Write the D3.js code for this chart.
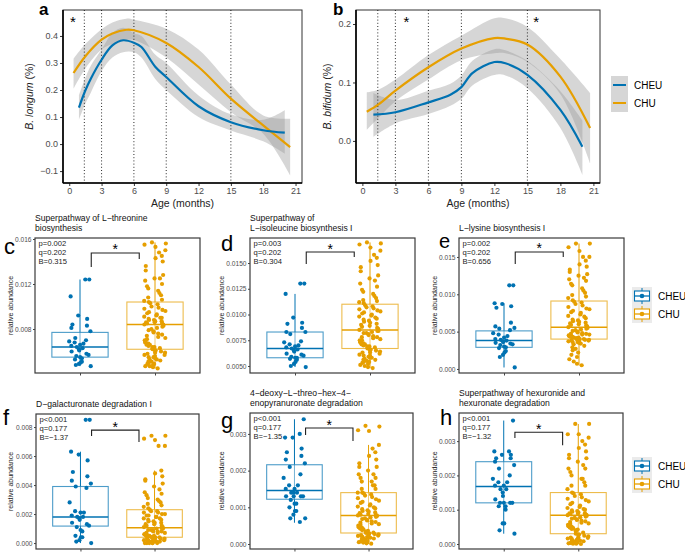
<!DOCTYPE html>
<html>
<head>
<meta charset="utf-8">
<script src="https://cdn.jsdelivr.net/npm/d3@7"></script>
<style>
body{margin:0;background:#fff}
text{font-family:"Liberation Sans",Arial,Helvetica,sans-serif}
</style>
</head>
<body>
<script>
const W = 685, H = 552
const blue = '#0072B2', orange = '#E69F00'
const groups = ['CHEU', 'CHU']

// ---- smooth curves (panels a, b) ----
const monthTicks = [0, 3, 6, 9, 12, 15, 18, 21]
const sigMonths = [1.4, 3, 6, 9, 15]

const aYTicks = [-0.1, 0, 0.1, 0.2, 0.3, 0.4]
const aCheuM  = [0.9, 1.5, 2, 3, 4, 5, 6, 6.7, 8, 9, 12, 15, 18, 20]
const aCheu   = [0.135, 0.199, 0.242, 0.312, 0.365, 0.384, 0.375, 0.359, 0.285, 0.248, 0.140, 0.081, 0.051, 0.042]
const aCheuLo = [0.09, 0.15, 0.19, 0.27, 0.32, 0.34, 0.34, 0.32, 0.24, 0.20, 0.10, 0.05, 0.01, -0.036]
const aCheuHi = [0.18, 0.245, 0.29, 0.35, 0.41, 0.43, 0.41, 0.40, 0.33, 0.30, 0.18, 0.11, 0.09, 0.125]
const aChuM   = [0.4, 1.5, 3, 4, 5.3, 6, 9, 12, 15, 18, 20.5]
const aChu    = [0.263, 0.325, 0.386, 0.409, 0.423, 0.421, 0.374, 0.285, 0.168, 0.069, -0.011]
const aChuLo  = [0.205, 0.28, 0.35, 0.37, 0.385, 0.385, 0.32, 0.22, 0.118, 0.038, -0.116]
const aChuHi  = [0.316, 0.37, 0.425, 0.45, 0.464, 0.46, 0.427, 0.35, 0.22, 0.106, 0.094]
const aStars  = [0.35]

const bYTicks = [0, 0.1, 0.2]
const bCheuM  = [1, 3, 6, 8, 9, 10, 12, 13, 15, 18, 20]
const bCheu   = [0.045, 0.049, 0.066, 0.079, 0.092, 0.116, 0.135, 0.133, 0.113, 0.053, -0.010]
const bCheuLo = [0.007, 0.03, 0.046, 0.06, 0.072, 0.095, 0.113, 0.112, 0.09, 0.022, -0.058]
const bCheuHi = [0.082, 0.07, 0.086, 0.098, 0.112, 0.137, 0.157, 0.155, 0.137, 0.085, 0.035]
const bChuM   = [0.4, 1.5, 3, 6, 9, 12, 13, 15, 18, 20.7]
const bChu    = [0.050, 0.063, 0.086, 0.126, 0.158, 0.176, 0.175, 0.165, 0.110, 0.022]
const bChuLo  = [0.019, 0.04, 0.068, 0.105, 0.138, 0.150, 0.150, 0.135, 0.080, -0.038]
const bChuHi  = [0.083, 0.088, 0.105, 0.147, 0.18, 0.21, 0.21, 0.195, 0.14, 0.082]
const bStars  = [4, 15.8]

// ---- boxplots (panels c-h) ----
const cCheu = [0.0124,0.0124,0.0109,0.0092,0.0089,0.0084,0.0083,0.0081,0.0078,0.0072,0.0070,0.0069,0.0068,0.0067,0.0066,0.0065,0.0064,0.0063,0.0062,0.0061,0.0060,0.0058,0.0057,0.0056,0.0055,0.0054,0.0053,0.0051,0.0050,0.0049,0.0048,0.0047]
const cChu = [0.0157,0.0156,0.0155,0.0153,0.0150,0.0148,0.0145,0.0143,0.0140,0.0136,0.0132,0.0128,0.0125,0.0125,0.0123,0.0120,0.0118,0.0116,0.0114,0.0112,0.0110,0.0108,0.0106,0.0105,0.0104,
  0.0103,0.0102,0.0100,0.0099,0.0098,0.0097,0.0096,0.0095,0.0094,0.0093,0.0092,0.0091,0.0090,0.0090,0.0089,0.0088,0.0088,0.0087,0.0087,0.0086,0.0086,0.0085,0.0085,0.0084,0.0084,
  0.0083,0.0082,0.0081,0.0080,0.0079,0.0078,0.0077,0.0076,0.0075,0.0074,0.0073,0.0072,0.0071,0.0070,0.0069,0.0068,0.0067,0.0066,0.0066,0.0065,0.0064,0.0064,0.0063,0.0063,0.0062,
  0.0061,0.0061,0.0060,0.0059,0.0059,0.0058,0.0057,0.0057,0.0056,0.0055,0.0055,0.0054,0.0053,0.0053,0.0052,0.0051,0.0051,0.0050,0.0049,0.0049,0.0048,0.0047,0.0047,0.0046,0.0045]
const cCheuBox = [0.0047, 0.0055, 0.0064, 0.0077, 0.0124]
const cChuBox = [0.0045, 0.0062, 0.0084, 0.0104, 0.0157]

const dCheu = [0.0130,0.0130,0.0120,0.0097,0.0092,0.0091,0.0087,0.0083,0.0083,0.0081,0.0074,0.0073,0.0071,0.0070,0.0069,0.0068,0.0067,0.0066,0.0065,0.0064,0.0062,0.0061,0.0060,0.0059,0.0058,0.0058,0.0057,0.0056,0.0054,0.0052,0.0050,0.0049]
const dChu = [0.0170,0.0169,0.0168,0.0165,0.0162,0.0158,0.0155,0.0152,0.0148,0.0146,0.0142,0.0138,0.0135,0.0133,0.0130,0.0127,0.0124,0.0122,0.0120,0.0118,0.0116,0.0114,0.0113,0.0112,0.0111,
  0.0109,0.0108,0.0107,0.0106,0.0105,0.0104,0.0103,0.0102,0.0101,0.0100,0.0099,0.0098,0.0097,0.0096,0.0095,0.0094,0.0093,0.0092,0.0091,0.0090,0.0089,0.0088,0.0087,0.0086,0.0085,
  0.0084,0.0084,0.0083,0.0082,0.0082,0.0081,0.0080,0.0079,0.0078,0.0078,0.0077,0.0076,0.0075,0.0075,0.0074,0.0073,0.0072,0.0071,0.0071,0.0070,0.0069,0.0069,0.0068,0.0068,0.0067,
  0.0066,0.0065,0.0065,0.0064,0.0063,0.0063,0.0062,0.0061,0.0060,0.0060,0.0059,0.0058,0.0058,0.0057,0.0056,0.0056,0.0055,0.0054,0.0054,0.0053,0.0052,0.0051,0.0050,0.0049,0.0048]
const dCheuBox = [0.0049, 0.0058, 0.0067, 0.0083, 0.0120]
const dChuBox = [0.0048, 0.0067, 0.0085, 0.0110, 0.0170]

const eCheu = [0.0112,0.0112,0.0088,0.0087,0.0084,0.0082,0.0062,0.0057,0.0055,0.0054,0.0052,0.0048,0.0046,0.0044,0.0042,0.0040,0.0039,0.0038,0.0037,0.0036,0.0035,0.0034,0.0033,0.0032,0.0030,0.0029,0.0028,0.0024,0.0022,0.0019,0.0016,0.0002]
const eChu = [0.0168,0.0168,0.0163,0.0158,0.0150,0.0150,0.0145,0.0140,0.0137,0.0133,0.0130,0.0127,0.0125,0.0122,0.0120,0.0118,0.0114,0.0112,0.0108,0.0105,0.0102,0.0099,0.0097,0.0095,0.0092,
  0.0090,0.0089,0.0087,0.0085,0.0083,0.0081,0.0080,0.0078,0.0076,0.0075,0.0073,0.0071,0.0070,0.0068,0.0066,0.0065,0.0064,0.0063,0.0062,0.0061,0.0060,0.0059,0.0058,0.0057,0.0056,
  0.0055,0.0054,0.0053,0.0052,0.0051,0.0050,0.0049,0.0048,0.0047,0.0047,0.0046,0.0046,0.0045,0.0045,0.0044,0.0044,0.0043,0.0043,0.0042,0.0042,0.0042,0.0041,0.0041,0.0040,0.0040,
  0.0040,0.0039,0.0039,0.0039,0.0038,0.0038,0.0038,0.0037,0.0037,0.0036,0.0036,0.0035,0.0034,0.0033,0.0031,0.0029,0.0027,0.0025,0.0022,0.0019,0.0016,0.0013,0.0010,0.0007,0.0005]
const eCheuBox = [0.0002, 0.0029, 0.0038, 0.0051, 0.0088]
const eChuBox = [0.0005, 0.0040, 0.0056, 0.0091, 0.0168]

const fCheu = [0.0085,0.0085,0.0063,0.0061,0.0057,0.0049,0.0046,0.0043,0.0041,0.0039,0.0038,0.0028,0.0022,0.0021,0.0021,0.0019,0.0018,0.0018,0.0017,0.0016,0.0014,0.0013,0.0012,0.0011,0.0009,0.0008,0.0005,0.0004,0.0004,0.0002,0.0001,0.0000]
const fChu = [0.0074,0.0074,0.0072,0.0071,0.0067,0.0067,
  0.0050,0.0048,0.0046,0.0044,0.0043,0.0041,0.0039,0.0037,0.0035,0.0034,0.0033,0.0031,0.0030,0.0029,0.0028,0.0027,0.0026,0.0025,0.0024,
  0.0023,0.0022,0.0022,0.0021,0.0021,0.0020,0.0020,0.0019,0.0019,0.0018,0.0018,0.0017,0.0017,0.0016,0.0016,0.0015,0.0015,0.0014,0.0014,0.0013,0.0013,0.0012,0.0012,0.0011,0.0011,
  0.0010,0.0010,0.0010,0.0009,0.0009,0.0009,0.0008,0.0008,0.0008,0.0007,0.0007,0.0007,0.0006,0.0006,0.0006,0.0006,0.0005,0.0005,0.0005,0.0005,0.0005,0.0004,0.0004,0.0004,0.0004,
  0.0004,0.0003,0.0003,0.0003,0.0003,0.0003,0.0002,0.0002,0.0002,0.0002,0.0002,0.0002,0.0001,0.0001,0.0001,0.0001,0.0001,0.0001,0.0001,0.0000,0.0000,0.0000,0.0000,0.0000,0.0000]
const fCheuBox = [0.0000, 0.00117, 0.0018, 0.0039, 0.0063]
const fChuBox = [0.0000, 0.0004, 0.00105, 0.0023, 0.0050]

const gCheu = [0.0034,0.0030,0.0029,0.0029,0.0026,0.0025,0.0024,0.0023,0.0022,0.0021,0.0019,0.0018,0.0016,0.0016,0.0015,0.0015,0.0014,0.0014,0.0014,0.0013,0.0013,0.0013,0.0013,0.0012,0.0011,0.0011,0.0010,0.0009,0.0009,0.0008,0.0007,0.0007,0.0006]
const gChu = [0.00322,0.00320,0.00310,0.00308,
  0.0027,0.0026,0.0025,0.0024,0.0023,0.0022,0.0021,0.0021,0.0020,0.0019,0.0019,0.0018,0.0018,0.0017,0.0017,0.0016,0.0016,0.0015,0.0015,0.0014,0.0014,
  0.00138,0.00135,0.00132,0.00128,0.00125,0.00122,0.00118,0.00115,0.00112,0.00108,0.00105,0.00102,0.00100,0.00097,0.00095,0.00092,0.00090,0.00088,0.00086,0.00084,0.00082,0.00080,0.00079,0.00078,0.00078,
  0.00076,0.00074,0.00072,0.00070,0.00068,0.00066,0.00064,0.00062,0.00060,0.00058,0.00056,0.00054,0.00052,0.00050,0.00048,0.00046,0.00044,0.00042,0.00040,0.00038,0.00036,0.00034,0.00032,0.00031,0.00030,
  0.00029,0.00028,0.00027,0.00026,0.00025,0.00024,0.00023,0.00022,0.00021,0.00020,0.00019,0.00018,0.00017,0.00016,0.00015,0.00014,0.00012,0.00010,0.00008,0.00007,0.00006,0.00005,0.00004,0.00002,0.00001]
const gCheuBox = [0.00058, 0.00122, 0.00146, 0.00216, 0.0034]
const gChuBox = [0.0000, 0.0003, 0.00078, 0.0014, 0.0027]

const hCheu = [0.0036,0.0027,0.0027,0.0026,0.0026,0.0025,0.0025,0.0024,0.0023,0.0022,0.0020,0.0019,0.0018,0.0018,0.0017,0.0017,0.0016,0.0016,0.0015,0.0014,0.0013,0.0012,0.0012,0.0012,0.0012,0.0011,0.0011,0.0010,0.0006,0.0006,0.0004,0.0003]
const hChu = [0.0035,0.0035,0.0032,0.0032,0.0031,0.0030,0.0029,0.0028,0.0027,0.0026,0.0025,0.0025,0.0024,0.0023,0.0022,0.0022,0.0021,0.0020,0.0019,0.0019,0.0018,0.0017,0.0017,0.0016,0.0015,
  0.00148,0.00145,0.00140,0.00136,0.00132,0.00128,0.00124,0.00120,0.00116,0.00112,0.00108,0.00105,0.00102,0.00100,0.00098,0.00096,0.00094,0.00092,0.00090,0.00089,0.00088,0.00087,0.00086,0.00085,0.00084,
  0.00082,0.00080,0.00078,0.00076,0.00074,0.00072,0.00070,0.00068,0.00066,0.00064,0.00062,0.00060,0.00058,0.00056,0.00054,0.00052,0.00050,0.00048,0.00046,0.00044,0.00042,0.00040,0.00036,0.00033,0.00030,
  0.00028,0.00026,0.00024,0.00022,0.00020,0.00019,0.00018,0.00016,0.00015,0.00014,0.00012,0.00011,0.00010,0.00009,0.00008,0.00007,0.00006,0.00005,0.00004,0.00003,0.00003,0.00002,0.00001,0.00001,0.00000]
const hCheuBox = [0.0003, 0.0012, 0.00168, 0.0024, 0.0036]
const hChuBox = [0.0000, 0.0003, 0.00084, 0.0015, 0.0035]

const cTicks = [0.008, 0.012, 0.016]
const dTicks = [0.0050, 0.0075, 0.0100, 0.0125, 0.0150]
const eTicks = [0.000, 0.005, 0.010, 0.015]
const fTicks = [0.000, 0.002, 0.004, 0.006, 0.008]
const gTicks = [0.000, 0.001, 0.002, 0.003]
const hTicks = [0.000, 0.001, 0.002, 0.003]

const cStats = ['p=0.002', 'q=0.202', 'B=0.315']
const dStats = ['p=0.003', 'q=0.202', 'B=0.304']
const eStats = ['p=0.002', 'q=0.202', 'B=0.656']
const fStats = ['p<0.001', 'q=0.177', 'B=\u22121.37']
const gStats = ['p<0.001', 'q=0.177', 'B=\u22121.35']
const hStats = ['p<0.001', 'q=0.177', 'B=\u22121.32']

// bracket: [top, left leg end, right leg end]
const cBracket = [0.01476, 0.01351, 0.01422]
const dBracket = [0.01607, 0.01490, 0.01558]
const eBracket = [0.01567, 0.01406, 0.0150]
const fBracket = [0.00779, 0.00738, 0.00697]
const gBracket = [0.00316, 0.00297, 0.00281]
const hBracket = [0.00326, 0.00309, 0.00288]

const svg = d3.select('body').append('svg').attr('width', W).attr('height', H)

function smoothPanel(o) {
  const x = d3.scaleLinear().domain([-0.58, 21.6]).range([o.x0, o.x1])
  const y = d3.scaleLinear().domain(o.ydom).range([o.y1, o.y0])
  const g = svg.append('g')
  g.append('rect').attr('x', o.x0).attr('y', o.y0).attr('width', o.x1 - o.x0).attr('height', o.y1 - o.y0)
    .attr('fill', 'none').attr('stroke', '#333').attr('stroke-width', 1)

  o.series.forEach(s => {
    const pts = s.m.map((m, i) => ({m: m, v: s.v[i], lo: s.lo[i], hi: s.hi[i]}))
    g.append('path').datum(pts)
      .attr('d', d3.area().x(d => x(d.m)).y0(d => y(d.lo)).y1(d => y(d.hi)).curve(d3.curveCatmullRom))
      .attr('fill', '#999').attr('fill-opacity', 0.4)
  })
  sigMonths.forEach(m => {
    g.append('line').attr('x1', x(m)).attr('x2', x(m)).attr('y1', o.y0).attr('y2', o.y1)
      .attr('stroke', '#111').attr('stroke-width', 0.9).attr('stroke-dasharray', '1,2.2')
  })
  o.series.forEach(s => {
    const pts = s.m.map((m, i) => ({m: m, v: s.v[i]}))
    g.append('path').datum(pts)
      .attr('d', d3.line().x(d => x(d.m)).y(d => y(d.v)).curve(d3.curveCatmullRom))
      .attr('fill', 'none').attr('stroke', s.color).attr('stroke-width', 2.2)
  })
  o.stars.forEach(m => {
    g.append('text').attr('x', x(m)).attr('y', o.y0 + 17).attr('text-anchor', 'middle')
      .attr('font-size', 15).text('*')
  })

  const xa = g.append('g').attr('transform', `translate(0,${o.y1})`)
    .call(d3.axisBottom(x).tickValues(monthTicks).tickSize(3).tickPadding(2))
  const ya = g.append('g').attr('transform', `translate(${o.x0},0)`)
    .call(d3.axisLeft(y).tickValues(o.yticks).tickFormat(d3.format('.1f')).tickSize(3).tickPadding(2))
  ;[xa, ya].forEach(a => {
    a.select('.domain').remove()
    a.selectAll('line').attr('stroke', '#333')
    a.selectAll('text').attr('font-size', 9).attr('fill', '#4d4d4d').attr('font-family', null)
  })
  g.append('line').attr('x1', o.x0).attr('x2', o.x1).attr('y1', o.y1).attr('y2', o.y1).attr('stroke', '#000').attr('stroke-width', 1.6)
  g.append('line').attr('x1', o.x0).attr('x2', o.x0).attr('y1', o.y0).attr('y2', o.y1).attr('stroke', '#000').attr('stroke-width', 1.6)

  g.append('text').attr('x', (o.x0 + o.x1) / 2).attr('y', 207).attr('text-anchor', 'middle')
    .attr('font-size', 10.5).attr('fill', '#222').text('Age (months)')
  const yt = g.append('text').attr('transform', `translate(${o.ytX},${(o.y0 + o.y1) / 2}) rotate(-90)`)
    .attr('text-anchor', 'middle').attr('font-size', 10.5).attr('fill', '#222')
  yt.append('tspan').attr('font-style', 'italic').text(o.ytitle)
  yt.append('tspan').text(' (%)')
  g.append('text').attr('x', o.labelX).attr('y', 15).attr('font-size', 17).attr('font-weight', 'bold').text(o.label)
}

smoothPanel({x0: 63, x1: 302, y0: 10, y1: 183, ydom: [-0.144, 0.496], yticks: aYTicks,
  ytX: 33, ytitle: 'B. longum', label: 'a', labelX: 39, stars: aStars,
  series: [
    {m: aChuM, v: aChu, lo: aChuLo, hi: aChuHi, color: orange},
    {m: aCheuM, v: aCheu, lo: aCheuLo, hi: aCheuHi, color: blue}
  ]})
smoothPanel({x0: 356, x1: 600, y0: 10, y1: 183, ydom: [-0.072, 0.224], yticks: bYTicks,
  ytX: 331, ytitle: 'B. bifidum', label: 'b', labelX: 333, stars: bStars,
  series: [
    {m: bChuM, v: bChu, lo: bChuLo, hi: bChuHi, color: orange},
    {m: bCheuM, v: bCheu, lo: bCheuLo, hi: bCheuHi, color: blue}
  ]})

// top legend
const lg = svg.append('g')
lg.append('rect').attr('x', 611).attr('y', 76).attr('width', 17).attr('height', 36).attr('fill', '#d6d6d6')
;[blue, orange].forEach((c, i) => {
  lg.append('line').attr('x1', 613).attr('x2', 626).attr('y1', 85 + i * 18).attr('y2', 85 + i * 18)
    .attr('stroke', c).attr('stroke-width', 2)
  lg.append('text').attr('x', 634).attr('y', 89 + i * 18).attr('font-size', 10).text(groups[i])
})

// deterministic jitter offset in [-0.5, 0.5)
const jit = i => {
  const s = Math.sin(i * 78.233 + 12.9898) * 43758.5453
  return s - Math.floor(s) - 0.5
}

function boxPanel(o) {
  const x = d3.scalePoint().domain(groups).range([o.x0, o.x1]).padding(0.6)
  const step = x.step(), bw = step * 0.75
  const y = d3.scaleLinear().domain(o.ydom).range([o.y1, o.y0])
  const g = svg.append('g')
  const cols = [blue, orange]

  o.title.forEach((t, i) => {
    g.append('text').attr('x', o.x0).attr('y', o.y0 - 7 - (o.title.length - 1 - i) * 10)
      .attr('font-size', 8.6).attr('fill', '#111').text(t)
  })

  groups.forEach((gr, gi) => {
    const b = o.box[gi], cx = x(gr), c = cols[gi]
    g.append('line').attr('x1', cx).attr('x2', cx).attr('y1', y(b[0])).attr('y2', y(b[1])).attr('stroke', c).attr('stroke-width', 1)
    g.append('line').attr('x1', cx).attr('x2', cx).attr('y1', y(b[3])).attr('y2', y(b[4])).attr('stroke', c).attr('stroke-width', 1)
    g.append('rect').attr('x', cx - bw / 2).attr('y', y(b[3])).attr('width', bw).attr('height', y(b[1]) - y(b[3]))
      .attr('fill', '#fff').attr('stroke', c).attr('stroke-opacity', 0.7).attr('stroke-width', 1.1)
    g.append('line').attr('x1', cx - bw / 2).attr('x2', cx + bw / 2).attr('y1', y(b[2])).attr('y2', y(b[2]))
      .attr('stroke', c).attr('stroke-width', 1.5)
    g.append('line').attr('x1', cx).attr('x2', cx).attr('y1', y(b[1])).attr('y2', y(b[3])).attr('stroke', c).attr('stroke-opacity', 0.55)
    g.selectAll(null).data(o.vals[gi]).enter().append('circle')
      .attr('cx', (d, i) => cx + jit(i + gi * 200) * 22).attr('cy', d => y(d)).attr('r', 2.1).attr('fill', c)
  })

  g.append('rect').attr('x', o.x0).attr('y', o.y0).attr('width', o.x1 - o.x0).attr('height', o.y1 - o.y0)
    .attr('fill', 'none').attr('stroke', '#3a3a3a').attr('stroke-width', 1.2)

  const ya = g.append('g').attr('transform', `translate(${o.x0},0)`)
    .call(d3.axisLeft(y).tickValues(o.yticks).tickFormat(d3.format(o.fmt)).tickSize(2).tickPadding(1.5))
  const xa = g.append('g').attr('transform', `translate(0,${o.y1})`)
    .call(d3.axisBottom(x).tickSize(2.5).tickFormat(''))
  ;[xa, ya].forEach(a => {
    a.select('.domain').remove()
    a.selectAll('line').attr('stroke', '#444')
    a.selectAll('text').attr('font-size', 6.6).attr('fill', '#4d4d4d').attr('font-family', null)
  })

  o.stats.forEach((t, i) => {
    g.append('text').attr('x', o.x0 + 3.5).attr('y', o.y0 + 8 + i * 8.8).attr('font-size', 7.6).attr('fill', '#222').text(t)
  })

  const bl = x('CHEU') + step * 0.15, br = x('CHU') - step * 0.21
  const br0 = o.bracket
  g.append('path')
    .attr('d', `M${bl},${y(br0[1])}V${y(br0[0])}H${br}V${y(br0[2])}`)
    .attr('fill', 'none').attr('stroke', '#222').attr('stroke-width', 1.1)
  g.append('text').attr('x', (bl + br) / 2).attr('y', y(br0[0]) + 1.5).attr('text-anchor', 'middle')
    .attr('font-size', 14).text('*')

  g.append('text').attr('transform', `translate(${o.ytX},${(o.y0 + o.y1) / 2}) rotate(-90)`)
    .attr('text-anchor', 'middle').attr('font-size', 7).attr('fill', '#222').text('relative abundance')
  g.append('text').attr('x', o.labelX).attr('y', o.labelY).attr('font-size', o.labelSize || 22).text(o.label)
}

boxPanel({x0: 35, x1: 200, y0: 238, y1: 373, ydom: [0.00409, 0.01609], yticks: cTicks, fmt: '.3f',
  title: ['Superpathway of L\u2212threonine', 'biosynthesis'], stats: cStats, bracket: cBracket,
  box: [cCheuBox, cChuBox], vals: [cCheu, cChu], ytX: 13, label: 'c', labelX: 4, labelY: 254})
boxPanel({x0: 250, x1: 415, y0: 238, y1: 373, ydom: [0.00432, 0.01743], yticks: dTicks, fmt: '.4f',
  title: ['Superpathway of', 'L\u2212isoleucine biosynthesis I'], stats: dStats, bracket: dBracket,
  box: [dCheuBox, dChuBox], vals: [dCheu, dChu], ytX: 224, label: 'd', labelX: 221, labelY: 251})
boxPanel({x0: 459, x1: 624, y0: 238, y1: 373, ydom: [-0.00054, 0.01754], yticks: eTicks, fmt: '.3f',
  title: ['L\u2212lysine biosynthesis I'], stats: eStats, bracket: eBracket,
  box: [eCheuBox, eChuBox], vals: [eCheu, eChu], ytX: 437, label: 'e', labelX: 439, labelY: 248, labelSize: 20})
boxPanel({x0: 36, x1: 199, y0: 414, y1: 549, ydom: [-0.00041, 0.0089], yticks: fTicks, fmt: '.3f',
  title: ['D\u2212galacturonate degradation I'], stats: fStats, bracket: fBracket,
  box: [fCheuBox, fChuBox], vals: [fCheu, fChu], ytX: 13, label: 'f', labelX: 3, labelY: 425})
boxPanel({x0: 250, x1: 413, y0: 413, y1: 549, ydom: [-0.000136, 0.00357], yticks: gTicks, fmt: '.3f',
  title: ['4\u2212deoxy\u2212L\u2212threo\u2212hex\u22124\u2212', 'enopyranuronate degradation'], stats: gStats, bracket: gBracket,
  box: [gCheuBox, gChuBox], vals: [gCheu, gChu], ytX: 224, label: 'g', labelX: 221, labelY: 428})
boxPanel({x0: 459, x1: 623, y0: 413, y1: 549, ydom: [-0.000146, 0.00382], yticks: hTicks, fmt: '.3f',
  title: ['Superpathway of hexuronide and', 'hexuronate degradation'], stats: hStats, bracket: hBracket,
  box: [hCheuBox, hChuBox], vals: [hCheu, hChu], ytX: 437, label: 'h', labelX: 440, labelY: 425})

// box legends
function boxLegend(top) {
  const g = svg.append('g')
  g.append('rect').attr('x', 632).attr('y', top).attr('width', 20).attr('height', 36).attr('fill', '#ebebeb')
  ;[blue, orange].forEach((c, i) => {
    const cy = top + 9 + i * 18
    g.append('line').attr('x1', 642).attr('x2', 642).attr('y1', cy - 8).attr('y2', cy + 8).attr('stroke', c)
    g.append('rect').attr('x', 634.5).attr('y', cy - 5).attr('width', 15).attr('height', 10)
      .attr('fill', '#fff').attr('stroke', c).attr('stroke-width', 1.1)
    g.append('line').attr('x1', 634.5).attr('x2', 649.5).attr('y1', cy).attr('y2', cy).attr('stroke', c).attr('stroke-width', 1.3)
    g.append('circle').attr('cx', 642).attr('cy', cy).attr('r', 2.3).attr('fill', c)
    g.append('text').attr('x', 658).attr('y', cy + 3.5).attr('font-size', 10).text(groups[i])
  })
}
boxLegend(287)
boxLegend(457)
</script>
</body>
</html>
